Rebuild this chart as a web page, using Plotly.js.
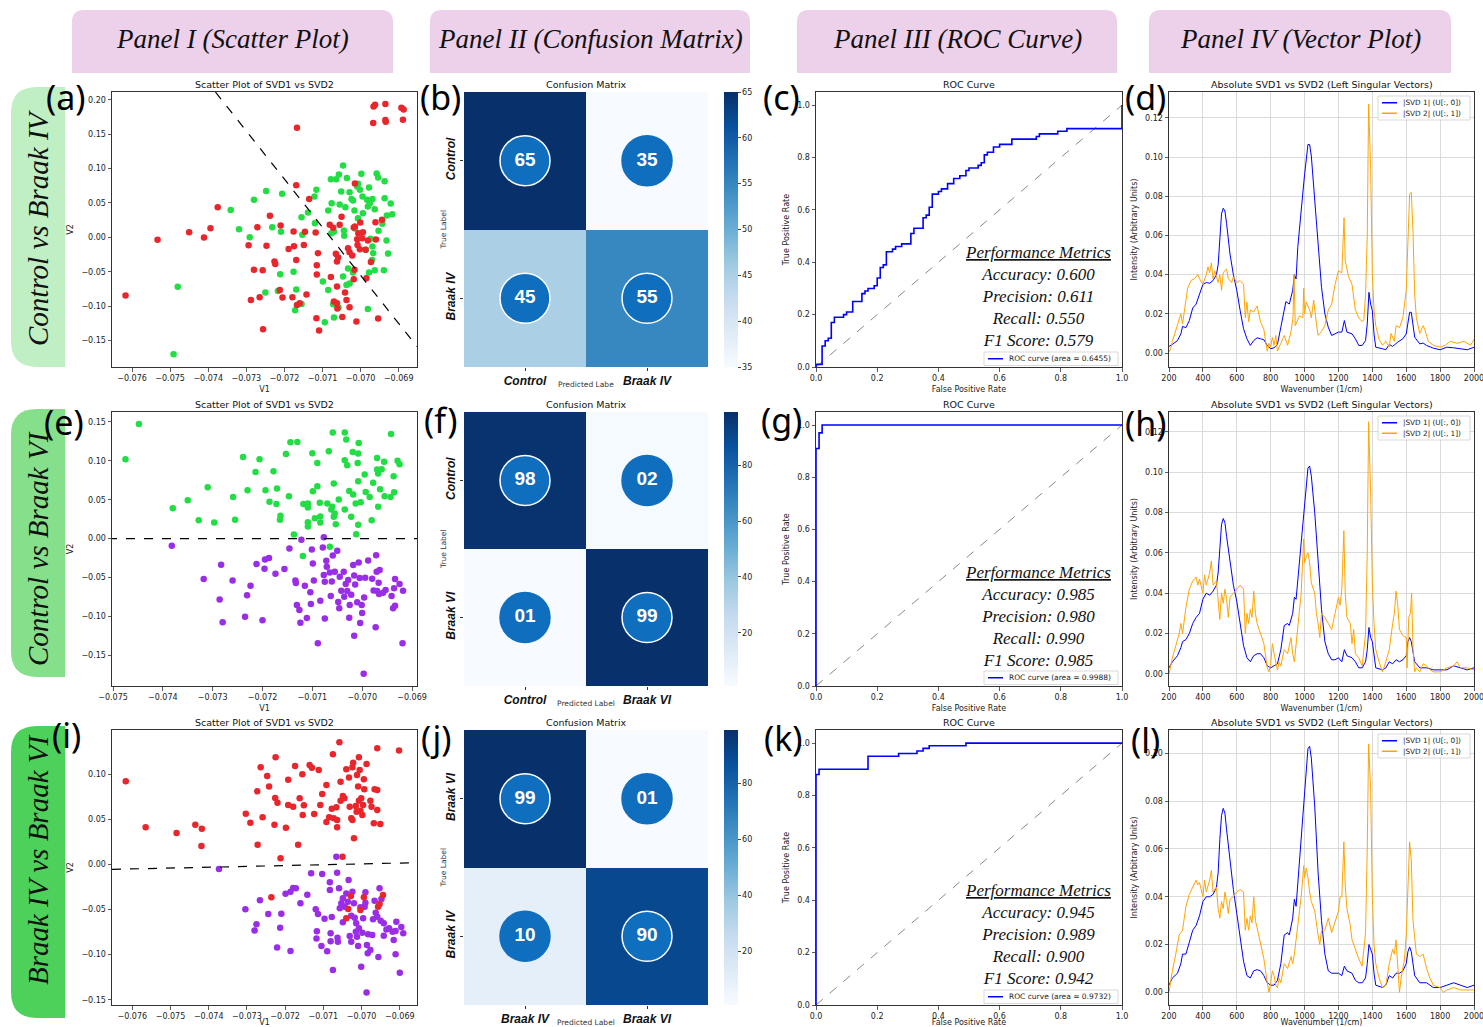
<!DOCTYPE html>
<html><head><meta charset="utf-8">
<script src="https://cdn.plot.ly/plotly-3.0.1.min.js"></script>
<style>html,body{margin:0;padding:0;background:#fff;}#chart{width:1483px;height:1027px;}</style>
</head><body><div id="chart"></div>
<script>
// ---------------- DATA ----------------
// Panel (a): Control (green) vs Braak IV (red), pairs [V1, V2]
const a_control = [[-0.07491,-0.1699],[-0.0748,-0.0719],[-0.07341,0.0396],[-0.07319,0.0119],[-0.07291,0.0003],[-0.0728,0.0546],[-0.07248,0.0672],[-0.07232,0.0148],[-0.07206,0.0633],[-0.07209,0.0080],[-0.07211,-0.0535],[-0.07217,-0.0778],[-0.0725,-0.0802],[-0.07176,-0.0501],[-0.07169,-0.0758],[-0.07172,-0.1059],[-0.07155,-0.0967],[-0.07155,0.0294],[-0.07153,0.0037],[-0.07138,0.0362],[-0.07121,0.0594],[-0.07116,0.0691],[-0.0712,0.0207],[-0.07099,-0.0642],[-0.07085,-0.0763],[-0.07094,-0.1233],[-0.0707,-0.1165],[-0.07058,-0.1020],[-0.07085,0.0391],[-0.07076,0.0497],[-0.07078,0.0846],[-0.07064,0.0846],[-0.07057,0.0914],[-0.07051,0.0667],[-0.07046,0.1045],[-0.07055,0.0478],[-0.0704,0.0439],[-0.07036,0.0861],[-0.07029,0.0657],[-0.07024,0.0556],[-0.0702,0.0536],[-0.07016,0.0391],[-0.07007,0.0279],[-0.07009,0.0740],[-0.07002,0.0691],[-0.06998,0.0924],[-0.06995,0.0594],[-0.07007,0.0778],[-0.06994,0.0352],[-0.06981,0.0449],[-0.06983,0.0546],[-0.06976,0.0497],[-0.06978,0.0725],[-0.06969,0.0556],[-0.06963,0.0410],[-0.06958,0.0929],[-0.06954,0.0871],[-0.06937,0.0817],[-0.06937,0.0570],[-0.06921,0.0493],[-0.06931,0.0318],[-0.06917,0.0337],[-0.06943,0.0197],[-0.06953,0.0095],[-0.06932,-0.0046],[-0.06928,-0.0235],[-0.06939,-0.0477],[-0.06963,-0.0477],[-0.06978,-0.0511],[-0.06967,-0.0230],[-0.06969,-0.0133],[-0.06974,-0.0021],[-0.0697,-0.0327],[-0.06986,-0.0181],[-0.0702,-0.0511],[-0.07029,-0.0671],[-0.07037,-0.0690],[-0.07046,-0.0569],[-0.07033,-0.0453],[-0.06981,-0.1039],[-0.07072,-0.0972],[-0.0707,0.0080],[-0.07044,0.0100],[-0.07043,0.0022],[-0.07077,0.0061],[-0.07015,0.0129]];
const a_braak4 = [[-0.07617,-0.0845],[-0.07533,-0.0036],[-0.0745,0.0076],[-0.07411,-0.0002],[-0.07394,0.0134],[-0.07375,0.0439],[-0.07271,0.0148],[-0.07294,-0.0113],[-0.07247,-0.0123],[-0.07238,0.0313],[-0.0728,-0.0472],[-0.07257,-0.0477],[-0.07288,-0.0908],[-0.07265,-0.0870],[-0.07256,-0.1335],[-0.07226,-0.0351],[-0.07224,-0.0385],[-0.0721,0.0173],[-0.07212,-0.0763],[-0.07205,-0.0875],[-0.07189,-0.0167],[-0.07176,0.0085],[-0.07175,-0.0128],[-0.07169,-0.0327],[-0.07179,-0.0870],[-0.07167,-0.0981],[-0.0716,-0.0957],[-0.07142,-0.0831],[-0.07149,-0.0109],[-0.07146,0.0080],[-0.07167,0.1593],[-0.07169,0.0759],[-0.07135,0.0556],[-0.07118,0.0071],[-0.07112,-0.0230],[-0.07115,-0.0404],[-0.07115,-0.0540],[-0.07116,-0.1175],[-0.07109,-0.1354],[-0.07078,-0.0574],[-0.07081,0.0182],[-0.07072,0.0139],[-0.07065,-0.0239],[-0.07062,-0.0351],[-0.07059,-0.0293],[-0.07055,0.0182],[-0.0705,0.0299],[-0.0707,-0.0933],[-0.07062,-0.0957],[-0.07061,-0.1034],[-0.07062,-0.0714],[-0.07048,-0.1156],[-0.07041,-0.0801],[-0.07037,-0.0908],[-0.07029,-0.1015],[-0.07033,-0.0157],[-0.07029,-0.0215],[-0.07022,-0.0264],[-0.07018,0.0143],[-0.07015,0.0783],[-0.07011,-0.1223],[-0.07016,-0.0472],[-0.07018,-0.0608],[-0.07009,-0.0026],[-0.07006,0.0061],[-0.07001,0.0216],[-0.06996,-0.0012],[-0.06994,0.0076],[-0.07002,-0.0172],[-0.07008,-0.0109],[-0.06987,-0.0181],[-0.06981,-0.0046],[-0.06985,-0.0593],[-0.06973,-0.0356],[-0.0696,-0.0032],[-0.06961,0.0221],[-0.06954,-0.1180],[-0.06944,0.0255],[-0.06967,0.1661],[-0.06966,0.1903],[-0.06962,0.1927],[-0.06935,0.1937],[-0.06935,0.1704],[-0.06934,0.1680],[-0.06893,0.1884],[-0.06887,0.1859],[-0.06889,0.1709],[-0.07015,0.0158]];
const a_boundary = [[-0.07381,0.2112],[-0.06852,-0.1587]];

// Panel (e): Control (green) vs Braak VI (purple)
const e_control = [[-0.07475,0.1021],[-0.07448,0.1474],[-0.0738,0.0392],[-0.0735,0.0494],[-0.07328,0.0238],[-0.0731,0.0661],[-0.07297,0.0208],[-0.07259,0.0537],[-0.07255,0.0242],[-0.07239,0.1051],[-0.0723,0.0623],[-0.07214,0.0858],[-0.07206,0.1021],[-0.07194,0.0623],[-0.07186,0.0473],[-0.07178,0.0867],[-0.07171,0.0644],[-0.07172,0.0447],[-0.07164,0.0293],[-0.07165,0.0242],[-0.07153,0.1089],[-0.07147,0.0546],[-0.07144,0.1239],[-0.0713,0.1243],[-0.07137,0.0054],[-0.07119,-0.0224],[-0.07118,0.0447],[-0.07109,0.0452],[-0.07109,0.0400],[-0.07109,0.0212],[-0.07109,0.0156],[-0.071,0.1098],[-0.07099,0.0610],[-0.0709,0.0674],[-0.0709,0.0974],[-0.07095,0.0263],[-0.07085,0.0460],[-0.07084,0.0285],[-0.07084,0.0208],[-0.0707,0.0452],[-0.07067,0.1123],[-0.07065,-0.0105],[-0.07059,0.1363],[-0.07057,0.0708],[-0.07062,0.0375],[-0.0706,0.0409],[-0.07057,0.0280],[-0.07055,0.0323],[-0.07053,0.0186],[-0.07047,0.0503],[-0.07035,0.1363],[-0.07032,0.1273],[-0.07035,0.1008],[-0.0703,0.0944],[-0.07035,0.0375],[-0.07026,0.0614],[-0.07022,0.0280],[-0.07019,0.1115],[-0.07018,0.0567],[-0.07013,0.0452],[-0.07012,0.0058],[-0.07007,0.1230],[-0.07008,0.1093],[-0.07009,0.0974],[-0.07008,0.0738],[-0.07008,0.0178],[-0.07003,0.0469],[-0.06995,0.0824],[-0.06993,0.0601],[-0.06985,0.0537],[-0.06981,0.0238],[-0.06978,0.0717],[-0.0697,0.1038],[-0.0697,0.0888],[-0.06968,0.0837],[-0.06961,0.0892],[-0.06968,0.0409],[-0.06964,0.0636],[-0.06956,0.0987],[-0.06955,0.0546],[-0.06943,0.0537],[-0.06942,0.1346],[-0.06937,0.0803],[-0.06936,0.0597],[-0.06929,0.1000],[-0.06925,0.0957]];
const e_braak6 = [[-0.07382,-0.0092],[-0.07318,-0.0520],[-0.07286,-0.0781],[-0.07283,-0.0336],[-0.0728,-0.1076],[-0.0726,-0.0537],[-0.07235,-0.1003],[-0.07231,-0.0729],[-0.07224,-0.0605],[-0.07212,-0.0327],[-0.072,-0.1050],[-0.07196,-0.0387],[-0.07195,-0.0267],[-0.07187,-0.0250],[-0.07174,-0.0451],[-0.07156,-0.0391],[-0.07146,-0.0126],[-0.07134,-0.0537],[-0.07133,-0.0571],[-0.07131,-0.0854],[-0.07126,-0.0918],[-0.07124,-0.1080],[-0.07122,-0.0015],[-0.07115,-0.0605],[-0.07111,-0.1020],[-0.07104,-0.0690],[-0.07103,-0.0841],[-0.07101,-0.0139],[-0.07099,-0.0319],[-0.07097,-0.0537],[-0.07089,-0.1346],[-0.07084,-0.0798],[-0.07079,-0.0113],[-0.07077,0.0019],[-0.07077,-0.0468],[-0.07075,-0.0554],[-0.07075,-0.1025],[-0.07072,-0.0284],[-0.07071,-0.0361],[-0.07065,-0.0434],[-0.07063,-0.0738],[-0.07061,-0.0550],[-0.07059,-0.0216],[-0.07055,-0.0426],[-0.0705,-0.0156],[-0.07048,-0.0815],[-0.07046,-0.0896],[-0.07045,-0.0490],[-0.07042,-0.0669],[-0.07037,-0.0426],[-0.07036,-0.0746],[-0.07033,-0.0584],[-0.0703,-0.0673],[-0.07028,-0.0533],[-0.07026,-0.1016],[-0.07025,-0.0854],[-0.07022,-0.0720],[-0.07018,-0.0340],[-0.07016,-0.0473],[-0.07016,-0.1247],[-0.07014,-0.0588],[-0.0701,-0.0819],[-0.07007,-0.0306],[-0.07005,-0.0507],[-0.07004,-0.1084],[-0.07001,-0.0854],[-0.07,-0.0956],[-0.06997,-0.1735],[-0.06996,-0.0755],[-0.06994,-0.0503],[-0.06988,-0.0280],[-0.0698,-0.0516],[-0.06977,-0.0665],[-0.06973,-0.1140],[-0.06972,-0.0212],[-0.06971,-0.0426],[-0.0697,-0.0673],[-0.06967,-0.0567],[-0.06965,-0.0404],[-0.06966,-0.0712],[-0.06958,-0.0695],[-0.06953,-0.0661],[-0.06941,-0.0738],[-0.06938,-0.0896],[-0.06936,-0.0639],[-0.06934,-0.0862],[-0.06934,-0.0520],[-0.06925,-0.0584],[-0.06919,-0.1346],[-0.06918,-0.0669]];
const e_boundary = [[-0.0751,0],[-0.0689,0]];

// Panel (i): Braak IV (red) vs Braak VI (purple)
const i_braak4 = [[-0.07617,0.0926],[-0.07565,0.0415],[-0.07484,0.0352],[-0.07435,0.0444],[-0.07418,0.0400],[-0.07419,0.0207],[-0.07303,0.0567],[-0.07291,0.0467],[-0.07272,0.0222],[-0.07273,0.0815],[-0.07264,0.1081],[-0.07259,0.0526],[-0.07247,0.0985],[-0.07242,0.0867],[-0.07236,-0.0363],[-0.07228,0.0444],[-0.07226,0.0741],[-0.07225,0.1193],[-0.0722,0.0689],[-0.07212,0.0070],[-0.07198,0.0411],[-0.07192,0.0944],[-0.07192,0.0663],[-0.07179,0.0644],[-0.07174,0.1096],[-0.07166,0.0222],[-0.07162,0.0737],[-0.07155,0.1004],[-0.07154,0.0552],[-0.07151,0.0659],[-0.07136,0.1107],[-0.0713,0.1078],[-0.07124,0.0563],[-0.07112,0.1052],[-0.07108,0.0663],[-0.07103,0.0785],[-0.07092,0.0885],[-0.07092,0.0474],[-0.07085,0.0526],[-0.07078,0.0622],[-0.07075,0.1226],[-0.07073,0.0515],[-0.07064,0.0415],[-0.07064,0.0496],[-0.07066,0.0637],[-0.07058,0.1359],[-0.07055,0.0922],[-0.07055,0.0711],[-0.0705,0.0089],[-0.07049,0.0763],[-0.07045,0.0737],[-0.0704,0.1059],[-0.07033,0.0967],[-0.07031,0.0644],[-0.07027,0.0515],[-0.07024,0.1081],[-0.07022,0.1133],[-0.07024,0.0496],[-0.0702,0.0293],[-0.07015,0.0652],[-0.07013,0.0589],[-0.07012,0.0996],[-0.07009,0.0867],[-0.07007,0.0711],[-0.07007,0.1193],[-0.07005,0.1052],[-0.07003,0.0600],[-0.07001,0.0737],[-0.06998,0.0552],[-0.06996,0.0663],[-0.06994,0.0948],[-0.06993,0.0837],[-0.06987,0.1119],[-0.06977,0.0711],[-0.06974,0.0644],[-0.06968,0.0459],[-0.06966,0.0837],[-0.06959,0.0830],[-0.06959,0.0607],[-0.06959,0.1293],[-0.06951,0.0452],[-0.06902,0.1267],[-0.07028,-0.0348],[-0.07035,-0.0493],[-0.0704,-0.0596],[-0.07003,-0.0504],[-0.06994,-0.0363],[-0.06957,-0.0467],[-0.06944,-0.0337],[-0.06953,-0.0437]];
const i_braak6 = [[-0.07373,-0.0048],[-0.07304,-0.0496],[-0.0728,-0.0730],[-0.07275,-0.0663],[-0.07266,-0.0396],[-0.07244,-0.0548],[-0.07221,-0.0919],[-0.07213,-0.0700],[-0.0721,-0.0544],[-0.07199,-0.0322],[-0.07186,-0.0959],[-0.07186,-0.0300],[-0.07179,-0.0259],[-0.07172,-0.0263],[-0.0716,-0.0430],[-0.07142,-0.0333],[-0.07132,-0.0096],[-0.0712,-0.0496],[-0.07117,-0.0741],[-0.07118,-0.0819],[-0.07114,-0.0548],[-0.07105,-0.0904],[-0.07103,-0.0104],[-0.07097,-0.0600],[-0.0709,-0.0963],[-0.07083,-0.0196],[-0.07083,-0.0281],[-0.07081,-0.0763],[-0.07081,-0.0852],[-0.07078,-0.0581],[-0.07075,-0.1170],[-0.07066,0.0089],[-0.07064,-0.0089],[-0.07063,-0.0811],[-0.07062,-0.0856],[-0.07059,-0.0263],[-0.07057,-0.0485],[-0.07053,-0.0430],[-0.07049,-0.0641],[-0.07049,-0.0374],[-0.07044,-0.0467],[-0.0704,-0.0319],[-0.07034,-0.0170],[-0.07036,-0.0411],[-0.07031,-0.0793],[-0.07027,-0.0567],[-0.07027,-0.0856],[-0.07024,-0.0300],[-0.0702,-0.0430],[-0.07018,-0.0589],[-0.07015,-0.0744],[-0.07014,-0.0652],[-0.07012,-0.0800],[-0.07009,-0.0904],[-0.07007,-0.0707],[-0.07003,-0.0474],[-0.07001,-0.1133],[-0.06998,-0.0756],[-0.06996,-0.0596],[-0.06992,-0.0467],[-0.0699,-0.0307],[-0.0699,-0.0422],[-0.06987,-0.1419],[-0.06986,-0.0893],[-0.06984,-0.0985],[-0.06983,-0.0774],[-0.06977,-0.0948],[-0.06972,-0.0781],[-0.0697,-0.0607],[-0.06966,-0.0400],[-0.06963,-0.0533],[-0.06959,-0.0578],[-0.06956,-0.1026],[-0.06953,-0.0263],[-0.0695,-0.0622],[-0.06948,-0.0381],[-0.06942,-0.0652],[-0.06942,-0.0789],[-0.06935,-0.0719],[-0.06928,-0.0707],[-0.06919,-0.0744],[-0.06916,-0.0837],[-0.06911,-0.0737],[-0.06911,-0.0996],[-0.06909,-0.0633],[-0.069,-0.1200],[-0.06896,-0.0693],[-0.06891,-0.0763]];
const i_boundary = [[-0.07653,-0.0052],[-0.06855,0.0022]];

// Confusion matrices
const cm_b = [[65,35],[45,55]];
const cm_b_xcats = ['Control','Braak IV'];
const cm_b_ycats = ['Control','Braak IV'];
const cm_f = [[98,2],[1,99]];
const cm_f_xcats = ['Control','Braak VI'];
const cm_f_ycats = ['Control','Braak VI'];
const cm_j = [[99,1],[10,90]];
const cm_j_xcats = ['Braak IV','Braak VI'];
const cm_j_ycats = ['Braak VI','Braak IV'];

// ROC curves: [FPR, TPR] vertices (step curve)
const roc_c = [[0,0],[0,0.01],[0.02,0.08],[0.03,0.10],[0.04,0.11],[0.05,0.17],[0.06,0.19],[0.09,0.20],[0.10,0.21],[0.12,0.25],[0.15,0.28],[0.16,0.29],[0.17,0.30],[0.19,0.31],[0.20,0.34],[0.21,0.38],[0.22,0.39],[0.23,0.44],[0.25,0.45],[0.26,0.46],[0.28,0.47],[0.31,0.51],[0.32,0.53],[0.35,0.57],[0.36,0.58],[0.37,0.61],[0.38,0.66],[0.40,0.67],[0.41,0.68],[0.43,0.70],[0.45,0.72],[0.47,0.73],[0.49,0.75],[0.50,0.76],[0.53,0.77],[0.54,0.78],[0.55,0.81],[0.56,0.82],[0.58,0.84],[0.60,0.85],[0.64,0.87],[0.72,0.88],[0.73,0.89],[0.79,0.90],[0.82,0.91],[1.0,0.91],[1.0,1.0]];
const roc_g = [[0,0],[0,0.91],[0.01,0.97],[0.02,1.0],[1.0,1.0]];
const roc_k = [[0,0],[0,0.88],[0.01,0.90],[0.17,0.95],[0.27,0.96],[0.33,0.97],[0.35,0.98],[0.37,0.99],[0.49,1.0],[1.0,1.0]];
const auc_values = [0.6455, 0.9988, 0.9732];
const metric_names = ['Accuracy','Precision','Recall','F1 Score'];
const metrics_c = [0.600,0.611,0.550,0.579];
const metrics_g = [0.985,0.980,0.990,0.985];
const metrics_k = [0.945,0.989,0.900,0.942];
const diag = [[0,0],[1,1]];

// Spectra: [wavenumber, |U|]
const d_svd1 = [[200,0.0034],[220,0.0044],[250,0.0064],[270,0.0098],[280,0.0136],[300,0.013],[320,0.0166],[340,0.023],[360,0.025],[380,0.030],[400,0.035],[420,0.036],[440,0.0356],[460,0.037],[480,0.040],[490,0.045],[500,0.061],[510,0.071],[520,0.0739],[530,0.0725],[540,0.066],[560,0.0505],[580,0.040],[600,0.032],[620,0.0217],[640,0.0124],[660,0.0073],[680,0.0039],[700,0.0064],[720,0.0078],[740,0.0073],[760,0.0068],[780,0.0039],[800,0.0022],[820,0.0027],[840,0.0044],[860,0.0132],[880,0.0234],[890,0.0263],[910,0.025],[920,0.0285],[930,0.032],[940,0.040],[950,0.0378],[960,0.054],[980,0.0742],[1000,0.091],[1020,0.1064],[1030,0.1064],[1040,0.1005],[1060,0.0793],[1080,0.0556],[1100,0.0336],[1120,0.020],[1140,0.0132],[1160,0.009],[1180,0.0098],[1200,0.0107],[1220,0.0107],[1235,0.0166],[1250,0.0107],[1280,0.0098],[1300,0.0073],[1320,0.0039],[1340,0.0039],[1360,0.0064],[1370,0.0149],[1380,0.031],[1390,0.025],[1400,0.0217],[1410,0.0098],[1420,0.003],[1460,0.0022],[1480,0.0017],[1500,0.0044],[1520,0.0034],[1550,0.0056],[1580,0.0073],[1600,0.0098],[1620,0.0208],[1630,0.0208],[1650,0.0081],[1680,0.0047],[1700,0.0051],[1720,0.0039],[1760,0.0025],[1800,0.0017],[1840,0.003],[1880,0.0027],[1920,0.0022],[1960,0.0017],[2000,0.003]];
const d_svd2 = [[200,0.0005],[210,0.002],[220,0.006],[240,0.012],[260,0.017],[270,0.020],[280,0.015],[300,0.026],[310,0.033],[330,0.037],[350,0.038],[370,0.040],[380,0.038],[400,0.035],[420,0.040],[430,0.044],[440,0.041],[450,0.046],[460,0.038],[470,0.042],[490,0.036],[500,0.040],[510,0.032],[520,0.041],[540,0.043],[550,0.038],[570,0.036],[580,0.039],[600,0.036],[620,0.037],[640,0.035],[650,0.018],[660,0.026],[670,0.016],[680,0.022],[700,0.021],[720,0.024],[740,0.016],[760,0.012],[770,0.006],[780,0.001],[790,0.005],[800,0.003],[810,0.008],[820,0.004],[830,0.009],[840,0.001],[860,0.005],[880,0.009],[900,0.004],[920,0.011],[932,0.018],[938,0.040],[945,0.014],[970,0.019],[990,0.018],[995,0.033],[1000,0.020],[1010,0.026],[1030,0.022],[1040,0.018],[1054,0.027],[1060,0.022],[1070,0.015],[1080,0.009],[1100,0.011],[1120,0.014],[1140,0.022],[1160,0.025],[1180,0.035],[1200,0.042],[1220,0.041],[1233,0.069],[1240,0.047],[1260,0.039],[1280,0.035],[1300,0.022],[1320,0.018],[1340,0.016],[1350,0.017],[1360,0.030],[1370,0.060],[1378,0.127],[1390,0.095],[1400,0.040],[1410,0.022],[1420,0.014],[1440,0.007],[1460,0.004],[1480,0.006],[1500,0.003],[1510,0.010],[1530,0.006],[1540,0.014],[1560,0.013],[1580,0.018],[1600,0.032],[1610,0.055],[1620,0.081],[1630,0.082],[1640,0.062],[1650,0.030],[1660,0.018],[1680,0.010],[1700,0.014],[1710,0.012],[1730,0.006],[1760,0.004],[1800,0.003],[1830,0.004],[1860,0.006],[1900,0.005],[1940,0.006],[1980,0.004],[2000,0.007]];
const h_svd1 = [[200,0.003],[220,0.006],[250,0.009],[270,0.013],[280,0.016],[300,0.017],[320,0.020],[340,0.025],[360,0.028],[380,0.030],[400,0.037],[420,0.040],[440,0.039],[460,0.041],[480,0.044],[490,0.050],[500,0.062],[510,0.074],[520,0.077],[530,0.075],[540,0.068],[560,0.055],[580,0.044],[600,0.036],[620,0.026],[640,0.014],[660,0.008],[680,0.006],[700,0.009],[720,0.010],[740,0.010],[760,0.008],[780,0.004],[800,0.003],[820,0.004],[840,0.005],[860,0.012],[880,0.024],[900,0.025],[910,0.024],[930,0.030],[940,0.038],[950,0.037],[960,0.046],[980,0.066],[1000,0.085],[1020,0.102],[1030,0.103],[1040,0.098],[1060,0.080],[1080,0.055],[1100,0.032],[1120,0.016],[1140,0.010],[1160,0.007],[1180,0.007],[1200,0.008],[1220,0.006],[1235,0.012],[1250,0.009],[1280,0.008],[1300,0.006],[1320,0.003],[1340,0.003],[1360,0.006],[1370,0.012],[1380,0.023],[1390,0.018],[1400,0.016],[1410,0.008],[1420,0.003],[1460,0.002],[1480,0.003],[1500,0.006],[1520,0.005],[1540,0.007],[1560,0.006],[1580,0.007],[1600,0.009],[1610,0.016],[1620,0.018],[1630,0.016],[1650,0.006],[1680,0.003],[1700,0.003],[1720,0.003],[1760,0.002],[1800,0.002],[1840,0.002],[1880,0.004],[1920,0.003],[1960,0.002],[2000,0.003]];
const h_svd2 = [[200,0.000],[210,0.005],[220,0.008],[240,0.014],[260,0.020],[270,0.025],[280,0.020],[300,0.033],[320,0.042],[340,0.046],[360,0.048],[370,0.044],[380,0.047],[400,0.040],[410,0.049],[420,0.044],[440,0.050],[450,0.056],[460,0.044],[480,0.046],[490,0.035],[500,0.027],[510,0.040],[520,0.035],[530,0.042],[540,0.037],[550,0.028],[560,0.038],[580,0.040],[600,0.042],[620,0.044],[640,0.042],[650,0.020],[660,0.030],[670,0.025],[680,0.032],[690,0.028],[700,0.041],[710,0.030],[720,0.025],[740,0.020],[760,0.015],[780,0.003],[790,0.001],[800,0.005],[810,0.015],[820,0.010],[830,0.005],[840,0.002],[850,0.006],[860,0.004],[880,0.012],[900,0.010],[920,0.018],[930,0.010],[940,0.006],[960,0.022],[980,0.040],[995,0.067],[1000,0.055],[1010,0.058],[1020,0.060],[1030,0.055],[1040,0.045],[1060,0.040],[1070,0.030],[1080,0.025],[1090,0.018],[1100,0.030],[1120,0.028],[1140,0.025],[1160,0.022],[1180,0.030],[1200,0.038],[1210,0.034],[1220,0.042],[1232,0.071],[1240,0.040],[1250,0.028],[1270,0.025],[1280,0.015],[1290,0.022],[1300,0.010],[1320,0.008],[1340,0.004],[1360,0.020],[1370,0.060],[1378,0.125],[1390,0.090],[1400,0.045],[1410,0.025],[1420,0.012],[1440,0.006],[1460,0.001],[1480,0.006],[1500,0.012],[1520,0.025],[1530,0.030],[1540,0.041],[1550,0.034],[1560,0.022],[1580,0.019],[1600,0.018],[1605,0.003],[1615,0.028],[1625,0.030],[1632,0.040],[1640,0.012],[1650,0.001],[1660,0.003],[1680,0.001],[1700,0.005],[1720,0.004],[1740,0.002],[1760,0.001],[1800,0.001],[1840,0.003],[1880,0.004],[1900,0.006],[1920,0.003],[1960,0.003],[2000,0.002]];
const l_svd1 = [[200,0.003],[220,0.006],[250,0.008],[270,0.012],[280,0.016],[300,0.016],[320,0.021],[340,0.026],[360,0.028],[380,0.032],[400,0.038],[420,0.040],[440,0.040],[460,0.041],[480,0.044],[490,0.050],[500,0.064],[510,0.074],[520,0.077],[530,0.075],[540,0.068],[560,0.055],[580,0.043],[600,0.033],[620,0.022],[640,0.013],[660,0.007],[680,0.006],[700,0.009],[720,0.0095],[740,0.009],[760,0.007],[780,0.004],[800,0.003],[820,0.003],[840,0.005],[860,0.012],[880,0.024],[900,0.025],[910,0.024],[930,0.031],[940,0.039],[950,0.036],[960,0.046],[980,0.066],[1000,0.086],[1020,0.102],[1030,0.103],[1040,0.098],[1060,0.078],[1080,0.050],[1100,0.030],[1120,0.016],[1140,0.009],[1160,0.008],[1180,0.008],[1200,0.008],[1220,0.007],[1235,0.011],[1250,0.009],[1280,0.008],[1300,0.005],[1320,0.004],[1340,0.004],[1360,0.006],[1370,0.012],[1380,0.020],[1390,0.018],[1400,0.016],[1410,0.008],[1420,0.003],[1460,0.002],[1480,0.003],[1500,0.007],[1520,0.006],[1540,0.008],[1560,0.008],[1580,0.009],[1600,0.012],[1610,0.017],[1620,0.019],[1630,0.017],[1650,0.007],[1680,0.004],[1700,0.004],[1720,0.004],[1760,0.002],[1800,0.002],[1840,0.003],[1880,0.004],[1920,0.003],[1960,0.002],[2000,0.003]];
const l_svd2 = [[200,0.000],[210,0.005],[220,0.009],[240,0.016],[260,0.024],[270,0.025],[280,0.026],[300,0.036],[320,0.041],[340,0.044],[360,0.047],[370,0.045],[380,0.046],[400,0.040],[410,0.047],[420,0.042],[440,0.047],[450,0.051],[460,0.042],[480,0.044],[490,0.035],[500,0.031],[510,0.038],[520,0.035],[530,0.042],[540,0.038],[550,0.033],[560,0.039],[580,0.040],[600,0.042],[620,0.043],[640,0.042],[650,0.026],[660,0.031],[670,0.026],[680,0.032],[690,0.029],[700,0.040],[710,0.030],[720,0.027],[740,0.020],[760,0.014],[780,0.004],[790,0.000],[800,0.004],[810,0.009],[820,0.007],[830,0.003],[840,0.002],[850,0.006],[860,0.004],[880,0.012],[900,0.010],[920,0.015],[930,0.012],[940,0.016],[960,0.028],[980,0.040],[995,0.053],[1000,0.048],[1010,0.052],[1020,0.048],[1030,0.042],[1040,0.038],[1060,0.034],[1070,0.028],[1080,0.024],[1090,0.020],[1100,0.026],[1120,0.026],[1140,0.031],[1160,0.025],[1180,0.030],[1200,0.034],[1210,0.040],[1220,0.040],[1232,0.063],[1240,0.045],[1250,0.035],[1270,0.028],[1280,0.022],[1290,0.020],[1300,0.018],[1320,0.014],[1340,0.011],[1360,0.025],[1370,0.060],[1378,0.104],[1390,0.085],[1400,0.040],[1410,0.020],[1420,0.012],[1440,0.006],[1460,0.002],[1480,0.003],[1500,0.012],[1520,0.018],[1530,0.016],[1540,0.022],[1550,0.012],[1560,0.000],[1570,0.006],[1590,0.014],[1600,0.024],[1610,0.045],[1620,0.063],[1630,0.055],[1640,0.030],[1660,0.016],[1680,0.015],[1700,0.016],[1720,0.010],[1740,0.006],[1760,0.003],[1800,0.002],[1820,0.000],[1840,0.001],[1880,0.002],[1920,0.001],[1960,0.001],[2000,0.001]];

// Text labels
const panel_headers = ['Panel I (Scatter Plot)','Panel II (Confusion Matrix)','Panel III (ROC Curve)','Panel IV (Vector Plot)'];
const row_labels = ['Control vs Braak IV','Control vs Braak VI','Braak IV vs Braak VI'];
const panel_letters = ['(a)','(b)','(c)','(d)','(e)','(f)','(g)','(h)','(i)','(j)','(k)','(l)'];
const svd_names = ['|SVD 1| (U[:, 0])','|SVD 2| (U[:, 1])'];

// ---------------- LAYOUT HELPERS ----------------
const W=1483, H=1027;
const PX = p => p/W, PY = p => 1 - p/H;
const xs = a => a.map(p=>p[0]), ys = a => a.map(p=>p[1]);
const rowsY = [[92,367],[412,686],[730,1005]];
const colsX = {sc:[112,417], hm:[464,708], roc:[816,1122], sp:[1169,1474]};
const tickFont = {family:'DejaVu Sans', size:8, color:'#222'};
const titleFont = {family:'DejaVu Sans', size:8, color:'#222'};

const layout = {
  width:W, height:H, margin:{l:0,r:0,t:0,b:0},
  paper_bgcolor:'#fff', plot_bgcolor:'#fff', showlegend:false,
  font:{family:'DejaVu Sans', color:'#222'},
  annotations:[], shapes:[]
};
const traces = [];
function axName(i, t){ return (t) + 'axis' + (i===1?'':i); }
function axRef(i, t){ return t + (i===1?'':i); }
function frameAxis(extra){
  return Object.assign({showline:true, mirror:true, linecolor:'#333', linewidth:1, ticks:'outside', ticklen:3.5, tickwidth:0.8, tickcolor:'#333', tickfont:tickFont, zeroline:false, showgrid:false, fixedrange:true, ticklabeloverflow:'allow'}, extra);
}
function setAxes(i, col, row, xo, yo){
  const c = colsX[col], r = rowsY[row];
  layout[axName(i,'x')] = Object.assign({domain:[PX(c[0]),PX(c[1])], anchor:axRef(i,'y')}, xo);
  layout[axName(i,'y')] = Object.assign({domain:[PY(r[1]),PY(r[0])], anchor:axRef(i,'x')}, yo);
}
function ann(text, x, y, font, extra){
  layout.annotations.push(Object.assign({text:text, x:PX(x), y:PY(y), xref:'paper', yref:'paper', showarrow:false, xanchor:'center', yanchor:'middle', font:font}, extra||{}));
}
function roundPath(x0,y0,x1,y1,tl,tr,br,bl){
  const P=(x,y)=>PX(x).toFixed(5)+','+PY(y).toFixed(5);
  return 'M'+P(x0+tl,y0)+' L'+P(x1-tr,y0)+' Q'+P(x1,y0)+' '+P(x1,y0+tr)+' L'+P(x1,y1-br)+' Q'+P(x1,y1)+' '+P(x1-br,y1)+
         ' L'+P(x0+bl,y1)+' Q'+P(x0,y1)+' '+P(x0,y1-bl)+' L'+P(x0,y0+tl)+' Q'+P(x0,y0)+' '+P(x0+tl,y0)+' Z';
}
// compact matplotlib-style legend box (items: [{name,color}])
function legendBox(items, right, top, width, rowH, fontSize){
  const left = right - width, h = items.length*rowH + 3;
  layout.shapes.push({type:'rect', xref:'paper', yref:'paper', x0:PX(left), x1:PX(right), y0:PY(top+h), y1:PY(top),
    fillcolor:'rgba(255,255,255,0.85)', line:{color:'#cfcfcf', width:0.8}, layer:'above'});
  items.forEach((it,k)=>{
    const yc = top + 1.5 + rowH*(k+0.5);
    layout.shapes.push({type:'line', xref:'paper', yref:'paper', x0:PX(left+4), x1:PX(left+19), y0:PY(yc), y1:PY(yc),
      line:{color:it.color, width:1.5}, layer:'above'});
    ann(it.name, left+23, yc, {family:'DejaVu Sans', size:fontSize, color:'#222'}, {xanchor:'left'});
  });
}

// ---------------- HEADERS / ROW LABELS ----------------
const headerBoxes = [[72,393],[430,750],[797,1117],[1149,1451]];
headerBoxes.forEach((b,k)=>{
  layout.shapes.push({type:'path', xref:'paper', yref:'paper', path:roundPath(b[0],10,b[1],73,12,12,0,0), fillcolor:'#edd0ea', line:{width:0}, layer:'below'});
  ann(panel_headers[k], (b[0]+b[1])/2, 39, {family:'Liberation Serif', size:27, style:'italic', color:'#111'});
});
const rowBoxes = [[87,367,'#c1efc4',228],[409,677,'#86e08b',549],[726,1018,'#4dd15a',860]];
rowBoxes.forEach((b,k)=>{
  layout.shapes.push({type:'path', xref:'paper', yref:'paper', path:roundPath(11,b[0],65,b[1],26,0,0,26), fillcolor:b[2], line:{width:0}, layer:'below'});
  ann(row_labels[k], 38, b[3], {family:'Liberation Serif', size:29, style:'italic', color:'#111'}, {textangle:-90});
});
const letterPos = [[65,97],[440,97],[781,97],[1145,97],[64,422],[440,420],[782,420],[1145,423],[66,735],[436,738],[784,738],[1145,740]];
letterPos.forEach((p,k)=> ann(panel_letters[k], p[0], p[1], {family:'Noto Sans', size:34, color:'#000'}));

// ---------------- SCATTER PANELS ----------------
const GREEN='#22dd44', RED='#e8262b', PURPLE='#9a2ee6';
const scatterPanels = [
  {i:1, row:0, groups:[[a_control,GREEN],[a_braak4,RED]], bnd:a_boundary, xr:[-0.076525,-0.06852], yr:[-0.1883,0.2112]},
  {i:5, row:1, groups:[[e_control,GREEN],[e_braak6,PURPLE]], bnd:e_boundary, xr:[-0.07502,-0.0689], yr:[-0.1894,0.1628]},
  {i:9, row:2, groups:[[i_braak6,PURPLE],[i_braak4,RED]], bnd:i_boundary, xr:[-0.07653,-0.06855], yr:[-0.1559,0.1496]}
];
scatterPanels.forEach(p=>{
  setAxes(p.i,'sc',p.row,
    frameAxis({range:p.xr, dtick:0.001, tick0:-0.076, tickformat:'.3f', title:{text:'V1', font:titleFont, standoff:4}}),
    frameAxis({range:p.yr, dtick:0.05, tick0:0, tickformat:'.2f', title:{text:'V2', font:titleFont, standoff:6}}));
  p.groups.forEach(g=>{
    traces.push({type:'scatter', mode:'markers', x:xs(g[0]), y:ys(g[0]), xaxis:axRef(p.i,'x'), yaxis:axRef(p.i,'y'),
      marker:{color:g[1], size:6.5, line:{width:0}}, showlegend:false, hoverinfo:'skip'});
  });
  traces.push({type:'scatter', mode:'lines', x:xs(p.bnd), y:ys(p.bnd), xaxis:axRef(p.i,'x'), yaxis:axRef(p.i,'y'),
    line:{color:'#000', width:1.2, dash:'dash'}, showlegend:false, hoverinfo:'skip'});
  const c=colsX.sc, r=rowsY[p.row];
  ann('Scatter Plot of SVD1 vs SVD2', (c[0]+c[1])/2, r[0]-8, {family:'DejaVu Sans', size:9.5, color:'#111'});
});

// ---------------- CONFUSION MATRICES ----------------
const BLUES = [[0,'#f7fbff'],[0.125,'#deebf7'],[0.25,'#c6dbef'],[0.375,'#9ecae1'],[0.5,'#6baed6'],[0.625,'#4292c6'],[0.75,'#2171b5'],[0.875,'#08519c'],[1,'#08306b']];
const cmPanels = [
  {i:2, row:0, z:cm_b, xc:cm_b_xcats, yc:cm_b_ycats, zmin:35, zmax:65, tv:[35,40,45,50,55,60,65], ring:['#fff','#106ebe','#fff','#fff'], xt:'Predicted Labe'},
  {i:6, row:1, z:cm_f, xc:cm_f_xcats, yc:cm_f_ycats, zmin:1, zmax:99, tv:[20,40,60,80], ring:['#fff','#106ebe','#106ebe','#fff'], xt:'Predicted Label'},
  {i:10, row:2, z:cm_j, xc:cm_j_xcats, yc:cm_j_ycats, zmin:1, zmax:99, tv:[20,40,60,80], ring:['#fff','#106ebe','#106ebe','#fff'], xt:'Predicted Label'}
];
const catFont = {family:'Liberation Sans', size:12, color:'#111'};
cmPanels.forEach(p=>{
  const r=rowsY[p.row], c=colsX.hm;
  setAxes(p.i,'hm',p.row,
    {range:[-0.5,1.5], tickvals:[0,1], ticktext:p.xc.map(s=>'<b><i>'+s+'</i></b>'), ticks:'outside', ticklen:3, tickcolor:'#333', tickfont:catFont, showline:false, showgrid:false, zeroline:false, fixedrange:true},
    {range:[1.5,-0.5], tickvals:[0,1], ticktext:p.yc.map(s=>'<b><i>'+s+'</i></b>'), ticks:'outside', ticklen:3, tickcolor:'#333', tickfont:catFont, tickangle:-90, showline:false, showgrid:false, zeroline:false, fixedrange:true});
  traces.push({type:'heatmap', z:p.z, x:[0,1], y:[0,1], xaxis:axRef(p.i,'x'), yaxis:axRef(p.i,'y'),
    colorscale:BLUES, zmin:p.zmin, zmax:p.zmax, showscale:true, hoverinfo:'skip',
    colorbar:{x:PX(724), xanchor:'left', y:PY((r[0]+r[1])/2), yanchor:'middle', len:(r[1]-r[0])/H, lenmode:'fraction',
      thickness:14, thicknessmode:'pixels', outlinewidth:0, tickvals:p.tv, ticks:'outside', ticklen:3, tickfont:tickFont, xpad:0, ypad:0}});
  const cx=[], cy=[], ct=[];
  p.z.forEach((row,ri)=>row.forEach((v,ci)=>{ cx.push(ci); cy.push(ri); ct.push(String(v).padStart(2,'0')); }));
  traces.push({type:'scatter', mode:'markers+text', x:cx, y:cy, text:ct, xaxis:axRef(p.i,'x'), yaxis:axRef(p.i,'y'),
    marker:{size:50, color:'#106ebe', line:{color:p.ring, width:1.5}}, textposition:'middle center',
    textfont:{family:'Liberation Sans', size:19, color:'#fff', weight:'bold'}, showlegend:false, hoverinfo:'skip'});
  ann('Confusion Matrix', (c[0]+c[1])/2, r[0]-8, {family:'DejaVu Sans', size:9.5, color:'#111'});
  ann('True Label', 443, (r[0]+r[1])/2, {family:'DejaVu Sans', size:7.5, color:'#333'}, {textangle:-90});
  ann(p.xt, 586, r[1]+17, {family:'DejaVu Sans', size:7.5, color:'#333'});
});

// ---------------- ROC PANELS ----------------
const rocPanels = [
  {i:3, row:0, data:roc_c, auc:auc_values[0], m:metrics_c},
  {i:7, row:1, data:roc_g, auc:auc_values[1], m:metrics_g},
  {i:11, row:2, data:roc_k, auc:auc_values[2], m:metrics_k}
];
rocPanels.forEach(p=>{
  const r=rowsY[p.row], c=colsX.roc;
  setAxes(p.i,'roc',p.row,
    frameAxis({range:[0,1], dtick:0.2, tickformat:'.1f', title:{text:'False Positive Rate', font:titleFont, standoff:4}}),
    frameAxis({range:[0,1.05], dtick:0.2, tick0:0, tickformat:'.1f', title:{text:'True Positive Rate', font:titleFont, standoff:6}}));
  traces.push({type:'scatter', mode:'lines', x:xs(diag), y:ys(diag), xaxis:axRef(p.i,'x'), yaxis:axRef(p.i,'y'),
    line:{color:'#888', width:1, dash:'dash'}, showlegend:false, hoverinfo:'skip'});
  const nm = 'ROC curve (area = '+p.auc.toFixed(4)+')';
  traces.push({type:'scatter', mode:'lines', x:xs(p.data), y:ys(p.data), xaxis:axRef(p.i,'x'), yaxis:axRef(p.i,'y'),
    line:{color:'#0000ff', width:1.6, shape:'hv'}, name:nm, hoverinfo:'skip', cliponaxis:false});
  legendBox([{name:nm, color:'#0000ff'}], c[1]-4, r[1]-15, 134, 10.5, 7.5);
  const txt = '<u>Performance Metrics</u><br>' + metric_names.map((n,k)=>n+': '+p.m[k].toFixed(3)).join('<br>');
  ann(txt, 1038, r[0]+204, {family:'Liberation Serif', size:17, style:'italic', color:'#111'}, {align:'center'});
  ann('ROC Curve', (c[0]+c[1])/2, r[0]-8, {family:'DejaVu Sans', size:9.5, color:'#111'});
});

// ---------------- SPECTRA PANELS ----------------
const specPanels = [
  {i:4, row:0, s1:d_svd1, s2:d_svd2, yr:[-0.0071,0.1332]},
  {i:8, row:1, s1:h_svd1, s2:h_svd2, yr:[-0.006,0.1298]},
  {i:12, row:2, s1:l_svd1, s2:l_svd2, yr:[-0.0053,0.1098]}
];
specPanels.forEach(p=>{
  const r=rowsY[p.row], c=colsX.sp;
  setAxes(p.i,'sp',p.row,
    frameAxis({range:[200,2000], dtick:200, tick0:200, showgrid:true, gridcolor:'#d2d2d2', gridwidth:0.8, title:{text:'Wavenumber (1/cm)', font:titleFont, standoff:4}}),
    frameAxis({range:p.yr, dtick:0.02, tick0:0, tickformat:'.2f', showgrid:true, gridcolor:'#d2d2d2', gridwidth:0.8, title:{text:'Intensity (Arbitrary Units)', font:titleFont, standoff:6}}));
  traces.push({type:'scatter', mode:'lines', x:xs(p.s1), y:ys(p.s1), xaxis:axRef(p.i,'x'), yaxis:axRef(p.i,'y'),
    line:{color:'#0000ff', width:1}, name:svd_names[0], hoverinfo:'skip'});
  traces.push({type:'scatter', mode:'lines', x:xs(p.s2), y:ys(p.s2), xaxis:axRef(p.i,'x'), yaxis:axRef(p.i,'y'),
    line:{color:'#ffa500', width:1}, name:svd_names[1], hoverinfo:'skip'});
  legendBox([{name:svd_names[0], color:'#0000ff'},{name:svd_names[1], color:'#ffa500'}], c[1]-4, r[0]+4, 92, 10.5, 7.3);
  ann('Absolute SVD1 vs SVD2 (Left Singular Vectors)', (c[0]+c[1])/2, r[0]-8, {family:'DejaVu Sans', size:9.5, color:'#111'});
});

Plotly.newPlot('chart', traces, layout, {displayModeBar:false, staticPlot:true});
</script>
</body></html>
